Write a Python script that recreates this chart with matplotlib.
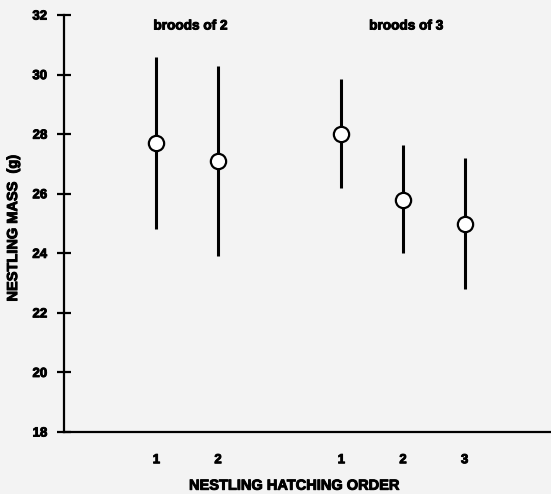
import numpy as np
import matplotlib
matplotlib.use("Agg")
from matplotlib import pyplot as plt
import matplotlib.patheffects as pe

plt.rcParams['font.family'] = ['Liberation Sans', 'DejaVu Sans']
plt.rcParams['font.weight'] = 'bold'

# Data
positions = [1, 2, 4, 5, 6]
tick_labels = ['1', '2', '1', '2', '3']
mean_mass = [27.7, 27.1, 28.0, 25.8, 25.0]
upper = [30.6, 30.3, 29.85, 27.65, 27.2]
lower = [24.8, 23.9, 26.2, 24.0, 22.8]
group_names = ['broods of 2', 'broods of 3']
group_centers = [1.55, 5.05]

mean_mass = np.array(mean_mass)
yerr = [mean_mass - np.array(lower), np.array(upper) - mean_mass]

bg = '#f3f3f3'
heavy = [pe.withStroke(linewidth=0.7, foreground='black')]

fig = plt.figure(figsize=(5.51, 4.94), dpi=100, facecolor=bg)
ax = fig.add_axes([0.116, 0.1255, 0.884, 0.844])
ax.set_facecolor(bg)

ax.errorbar(positions, mean_mass, yerr=yerr, fmt='o', color='black', ecolor='black',
            elinewidth=2.2, capsize=0, markersize=11, markerfacecolor='white',
            markeredgecolor='black', markeredgewidth=1.6, zorder=3)

for name, xc in zip(group_names, group_centers):
    ax.text(xc, 31.65, name, ha='center', va='center', fontsize=9.8,
            fontweight='bold', path_effects=heavy)

ax.set_xlim(-0.5, 7.4)
ax.set_ylim(18, 32)
ax.set_yticks(np.arange(18, 33, 2))
ax.set_xticks(positions)
ax.set_xticklabels(tick_labels)

ax.spines['top'].set_visible(False)
ax.spines['right'].set_visible(False)
ax.spines['left'].set_linewidth(1.6)
ax.spines['bottom'].set_linewidth(1.6)

ax.tick_params(axis='y', direction='inout', length=10, width=1.6, labelsize=9.5, pad=7)
ax.tick_params(axis='x', length=0, labelsize=9.5, pad=16)
for lab in ax.get_xticklabels() + ax.get_yticklabels():
    lab.set_path_effects(heavy)

ax.set_xlabel('NESTLING HATCHING ORDER', fontsize=10.5, fontweight='bold', path_effects=heavy)
ax.set_ylabel('NESTLING MASS  (g)', fontsize=10.5, fontweight='bold', path_effects=heavy)
ax.xaxis.set_label_coords(0.474, -0.112)
ax.yaxis.set_label_coords(-0.09, 0.49)

fig.savefig('out.png', dpi=100, facecolor=bg)
